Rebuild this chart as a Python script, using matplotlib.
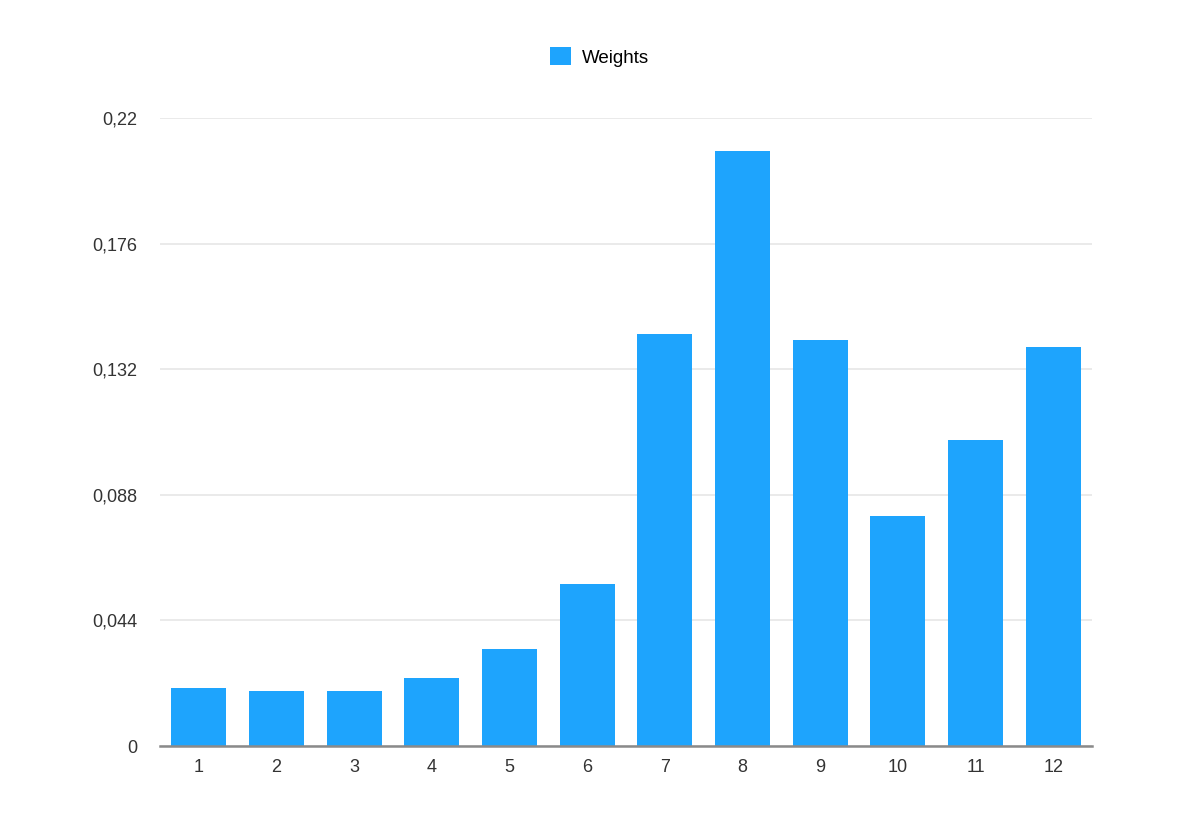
import matplotlib
matplotlib.use("Agg")
import matplotlib.pyplot as plt
from matplotlib.ticker import FuncFormatter

categories = ["1", "2", "3", "4", "5", "6", "7", "8", "9", "10", "11", "12"]
weights = [0.0204, 0.0193, 0.0193, 0.0240, 0.0340, 0.0568,
           0.1445, 0.2084, 0.1421, 0.0806, 0.1072, 0.1398]
y_ticks = [0, 0.044, 0.088, 0.132, 0.176, 0.22]

plt.rcParams['font.family'] = ['Liberation Sans', 'DejaVu Sans']

blue = '#1EA4FD'

fig = plt.figure(figsize=(12, 8.18), dpi=100)
ax = fig.add_axes([0.1333, 0.088, 0.7767, 0.7677])

x = list(range(1, len(categories) + 1))
ax.bar(x, weights, width=0.71, color=blue, label='Weights', zorder=3)

ax.set_xlim(0.5, 12.5)
ax.set_ylim(0, 0.22)
ax.set_xticks(x)
ax.set_xticklabels(categories)
ax.set_yticks(y_ticks)
ax.yaxis.set_major_formatter(FuncFormatter(
    lambda v, p: "0" if v == 0 else ("%g" % v).replace(".", ",")))

# grid and spines
ax.yaxis.grid(True, color='#E6E6E6', linewidth=1.2, zorder=0)
ax.xaxis.grid(False)
for s in ["top", "right", "left"]:
    ax.spines[s].set_visible(False)
ax.spines["bottom"].set_color('#8A8A8A')
ax.spines["bottom"].set_linewidth(1.8)
ax.spines["bottom"].set_zorder(4)

ax.tick_params(axis='both', length=0, labelsize=13, colors='#333333')
ax.tick_params(axis='x', pad=9)
ax.tick_params(axis='y', pad=16)

ax.legend(loc='center', bbox_to_anchor=(0.472, 1.097),
          frameon=False, fontsize=13.5, handlelength=1.1, handleheight=1.1,
          handletextpad=0.6)

plt.savefig("out.png", dpi=100)
